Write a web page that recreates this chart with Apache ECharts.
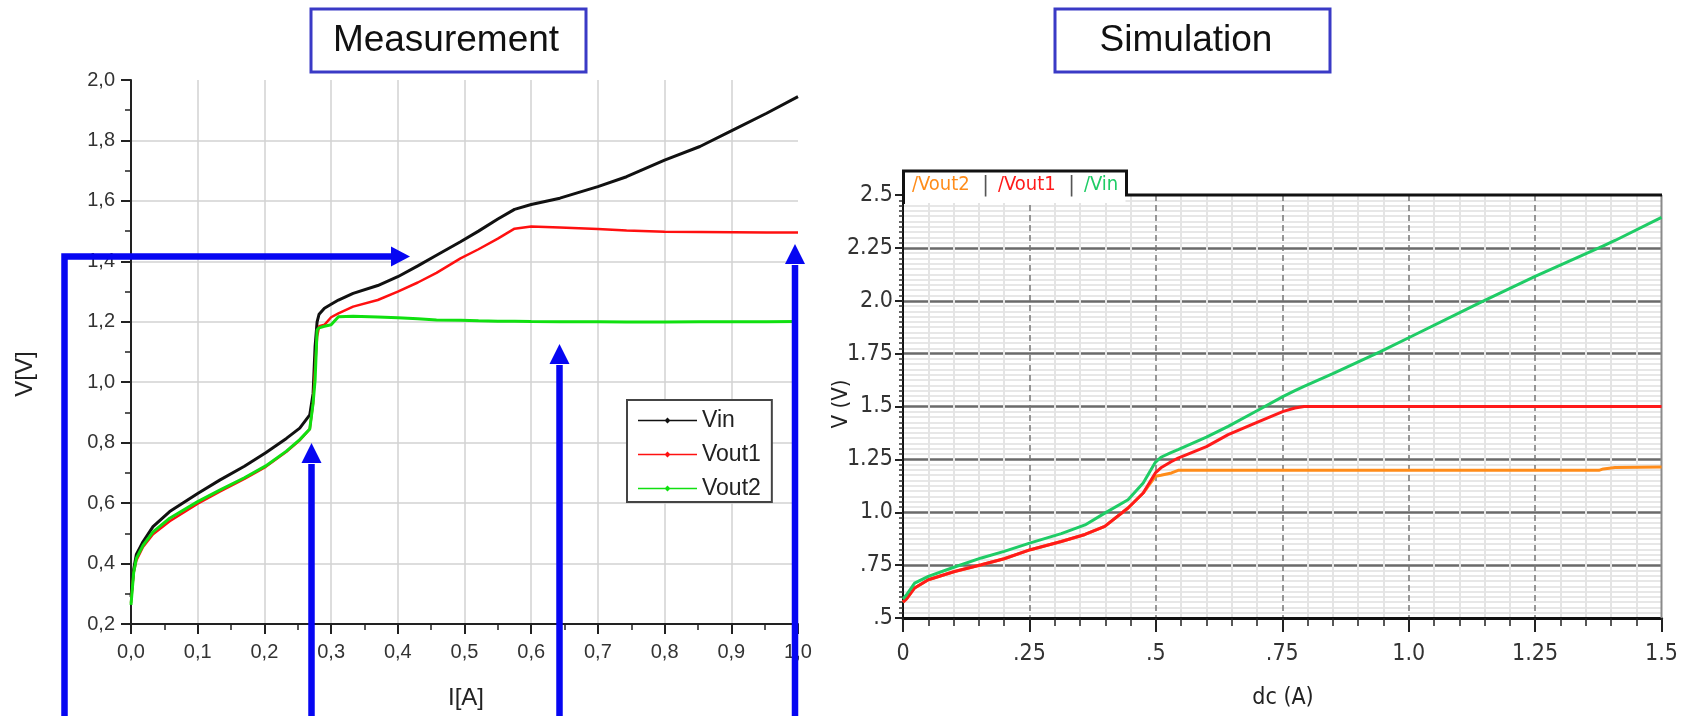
<!DOCTYPE html>
<html>
<head>
<meta charset="utf-8">
<script src="https://cdn.jsdelivr.net/npm/echarts@6/dist/echarts.min.js"></script>
<style>
html,body{margin:0;padding:0;background:#fff;}
#chart{width:1681px;height:716px;}
</style>
</head>
<body>
<div id="chart"></div>
<script>
// ---------- Measurement (left) ----------
const measI     = [0, 0.004, 0.008, 0.018, 0.033, 0.058, 0.1, 0.133, 0.17, 0.202, 0.233, 0.253, 0.268, 0.273, 0.276, 0.279, 0.282, 0.29, 0.3, 0.311, 0.333, 0.37, 0.4, 0.43, 0.458, 0.494, 0.521, 0.55, 0.575, 0.6, 0.643, 0.7, 0.743, 0.8, 0.853, 0.903, 0.953, 1.0];
const measVin   = [0.29, 0.38, 0.43, 0.472, 0.522, 0.572, 0.632, 0.676, 0.722, 0.767, 0.814, 0.848, 0.892, 0.963, 1.118, 1.2, 1.225, 1.245, 1.258, 1.272, 1.294, 1.32, 1.349, 1.385, 1.42, 1.465, 1.5, 1.54, 1.572, 1.588, 1.609, 1.647, 1.68, 1.735, 1.78, 1.835, 1.89, 1.945];
const measVout1 = [0.27, 0.37, 0.41, 0.455, 0.497, 0.54, 0.598, 0.638, 0.68, 0.72, 0.77, 0.808, 0.845, 0.93, 1.05, 1.15, 1.185, 1.19, 1.215, 1.228, 1.25, 1.272, 1.3, 1.33, 1.362, 1.41, 1.44, 1.475, 1.508, 1.515, 1.512, 1.507, 1.502, 1.498, 1.497, 1.496, 1.495, 1.495];
const measVout2 = [0.263, 0.37, 0.417, 0.46, 0.505, 0.55, 0.605, 0.643, 0.684, 0.723, 0.772, 0.81, 0.845, 0.93, 1.007, 1.173, 1.18, 1.185, 1.19, 1.217, 1.218, 1.216, 1.213, 1.21, 1.206, 1.205, 1.203, 1.202, 1.202, 1.201, 1.2, 1.2, 1.199, 1.199, 1.2, 1.2, 1.2, 1.201];
const measXTickLabels = ['0,0','0,1','0,2','0,3','0,4','0,5','0,6','0,7','0,8','0,9','1,0'];
const measYTickLabels = ['0,2','0,4','0,6','0,8','1,0','1,2','1,4','1,6','1,8','2,0'];

// ---------- Simulation (right) ----------
const simI     = [0, 0.007, 0.023, 0.05, 0.102, 0.155, 0.2, 0.252, 0.313, 0.36, 0.399, 0.445, 0.475, 0.499, 0.51, 0.531, 0.544, 0.6, 0.643, 0.7, 0.752, 0.775, 0.793, 0.85, 0.943, 1.0, 1.14, 1.25, 1.376, 1.385, 1.408, 1.5];
const simVin   = [0.59, 0.61, 0.665, 0.697, 0.741, 0.784, 0.815, 0.855, 0.899, 0.94, 0.996, 1.059, 1.138, 1.236, 1.26, 1.283, 1.296, 1.355, 1.406, 1.48, 1.548, 1.575, 1.595, 1.655, 1.758, 1.825, 1.99, 2.115, 2.25, 2.26, 2.285, 2.394];
const simVout1 = [0.575, 0.59, 0.642, 0.681, 0.72, 0.752, 0.78, 0.823, 0.862, 0.895, 0.933, 1.02, 1.091, 1.186, 1.21, 1.24, 1.256, 1.31, 1.367, 1.425, 1.477, 1.493, 1.5, 1.5, 1.5, 1.5, 1.5, 1.5, 1.5, 1.5, 1.5, 1.5];
const simVout2 = [0.575, 0.59, 0.642, 0.681, 0.72, 0.752, 0.78, 0.823, 0.862, 0.895, 0.933, 1.02, 1.091, 1.17, 1.175, 1.186, 1.198, 1.198, 1.198, 1.198, 1.198, 1.198, 1.198, 1.198, 1.198, 1.198, 1.198, 1.198, 1.198, 1.205, 1.212, 1.214];
const simXTickLabels = ['0','.25','.5','.75','1.0','1.25','1.5'];
const simYTickLabels = ['.5','.75','1.0','1.25','1.5','1.75','2.0','2.25','2.5'];

const zip = (xs, ys) => xs.map((x, i) => [x, ys[i]]);

const LF = "'Liberation Sans', Arial, sans-serif";
const NF = "'DejaVu Sans Condensed', 'Liberation Sans Narrow', 'Liberation Sans', sans-serif";
const BLUE = '#0606f2';

const chart = echarts.init(document.getElementById('chart'), null, {renderer: 'canvas'});

const legendIcon = 'path://M0,2.2 L59,2.2 L59,3.8 L0,3.8 Z M29.5,0 L32.5,3 L29.5,6 L26.5,3 Z';

function arrowUp(x, tipY, baseY) {
  return [
    {type: 'line', shape: {x1: x, y1: 720, x2: x, y2: baseY + 1}, style: {stroke: BLUE, lineWidth: 6.5}, z: 20},
    {type: 'polygon', shape: {points: [[x - 10, baseY], [x, tipY], [x + 10, baseY]]}, style: {fill: BLUE}, z: 20}
  ];
}

const option = {
  backgroundColor: '#fff',
  animation: false,
  grid: [
    {left: 131, top: 80, width: 667, height: 544, containLabel: false},
    {left: 903, top: 195, width: 759, height: 423, containLabel: false}
  ],
  xAxis: [
    {
      type: 'value', gridIndex: 0, min: 0, max: 1, interval: 0.1,
      axisLine: {show: true, onZero: false, lineStyle: {color: '#222', width: 2}},
      axisTick: {show: true, length: 10, lineStyle: {color: '#222', width: 2}},
      minorTick: {show: true, splitNumber: 2, length: 6, lineStyle: {color: '#222', width: 1.5}},
      axisLabel: {formatter: v => measXTickLabels[Math.round(v * 10)], fontSize: 20, color: '#333', fontFamily: LF, margin: 18},
      splitLine: {show: true, showMaxLine: false, lineStyle: {color: '#d2d2d2', width: 1.5}}
    },
    {
      type: 'value', gridIndex: 1, min: 0, max: 1.5, interval: 0.25,
      axisLine: {show: true, onZero: false, lineStyle: {color: '#111', width: 3}},
      axisTick: {show: true, length: 14, lineStyle: {color: '#222', width: 2}},
      minorTick: {show: true, splitNumber: 5, length: 8, lineStyle: {color: '#222', width: 1.5}},
      axisLabel: {formatter: v => simXTickLabels[Math.round(v / 0.25)], fontSize: 23, color: '#333', fontFamily: NF, margin: 25},
      splitLine: {show: true, showMinLine: false, showMaxLine: false, lineStyle: {color: '#777', width: 1.5, type: [6, 4]}},
      minorSplitLine: {show: true, lineStyle: {color: '#e4e4e4', width: 2}}
    }
  ],
  yAxis: [
    {
      type: 'value', gridIndex: 0, min: 0.2, max: 2.0, interval: 0.2,
      axisLine: {show: true, onZero: false, lineStyle: {color: '#222', width: 2}},
      axisTick: {show: true, length: 10, lineStyle: {color: '#222', width: 2}},
      minorTick: {show: true, splitNumber: 2, length: 6, lineStyle: {color: '#222', width: 1.5}},
      axisLabel: {formatter: v => measYTickLabels[Math.round((v - 0.2) / 0.2)], fontSize: 20, color: '#333', fontFamily: LF, margin: 16},
      splitLine: {show: true, showMinLine: false, showMaxLine: false, lineStyle: {color: '#d2d2d2', width: 1.5}}
    },
    {
      type: 'value', gridIndex: 1, min: 0.5, max: 2.5, interval: 0.25,
      axisLine: {show: true, onZero: false, lineStyle: {color: '#111', width: 2}},
      axisTick: {show: true, length: 8, lineStyle: {color: '#222', width: 2}},
      minorTick: {show: true, splitNumber: 10, length: 4, lineStyle: {color: '#333', width: 1.5}},
      axisLabel: {formatter: v => simYTickLabels[Math.round((v - 0.5) / 0.25)], fontSize: 23, color: '#333', fontFamily: NF, margin: 10},
      splitLine: {show: true, showMinLine: false, showMaxLine: false, lineStyle: {color: '#6a6a6a', width: 2.5}},
      minorSplitLine: {show: true, lineStyle: {color: '#e0e0e0', width: 1.5}}
    }
  ],
  legend: [
    {
      data: ['Vin', 'Vout1', 'Vout2'],
      orient: 'vertical', left: 627, top: 400,
      padding: [9, 11, 2, 11], itemGap: 11,
      itemWidth: 59, itemHeight: 6, icon: legendIcon,
      textStyle: {fontSize: 23, color: '#222', fontFamily: LF, lineHeight: 20},
      borderColor: '#444', borderWidth: 2, backgroundColor: '#fff', z: 10
    },
    {
      data: ['/Vout2', '/Vout1', '/Vin'],
      orient: 'horizontal', left: 906, top: 174, padding: 0, itemGap: 3,
      itemWidth: 1, itemHeight: 1, icon: 'rect', itemStyle: {opacity: 0},
      formatter: name => name === '/Vout2' ? '{o|' + name + '}{s|  |}'
                       : name === '/Vout1' ? '{r|' + name + '}{s|  |}'
                       : '{g|' + name + '}',
      textStyle: {
        fontSize: 20, fontFamily: NF,
        rich: {
          o: {color: '#ff8c1a', fontSize: 20, fontFamily: NF},
          r: {color: '#ff1a1a', fontSize: 20, fontFamily: NF},
          g: {color: '#1fcc66', fontSize: 20, fontFamily: NF},
          s: {color: '#555', fontSize: 22, fontFamily: NF}
        }
      },
      z: 12
    }
  ],
  series: [
    {name: 'Vin', type: 'line', xAxisIndex: 0, yAxisIndex: 0, data: zip(measI, measVin), showSymbol: false, color: '#111', lineStyle: {width: 3}},
    {name: 'Vout1', type: 'line', xAxisIndex: 0, yAxisIndex: 0, data: zip(measI, measVout1), showSymbol: false, color: '#ff1010', lineStyle: {width: 2.5}},
    {name: 'Vout2', type: 'line', xAxisIndex: 0, yAxisIndex: 0, data: zip(measI, measVout2), showSymbol: false, color: '#10e010', lineStyle: {width: 3}},
    {name: '/Vout2', type: 'line', xAxisIndex: 1, yAxisIndex: 1, data: zip(simI, simVout2), showSymbol: false, color: '#ff8c1a', lineStyle: {width: 3}},
    {name: '/Vout1', type: 'line', xAxisIndex: 1, yAxisIndex: 1, data: zip(simI, simVout1), showSymbol: false, color: '#ff1a1a', lineStyle: {width: 3}},
    {name: '/Vin', type: 'line', xAxisIndex: 1, yAxisIndex: 1, data: zip(simI, simVin), showSymbol: false, color: '#1fcc66', lineStyle: {width: 3}}
  ],
  graphic: [
    // title boxes
    {type: 'rect', shape: {x: 311, y: 9, width: 275, height: 63}, style: {fill: '#fff', stroke: '#3a3ac6', lineWidth: 3}, z: 5},
    {type: 'text', x: 446, y: 41, style: {text: 'Measurement', font: "37px 'Liberation Sans', Arial, sans-serif", fill: '#111', textAlign: 'center', textVerticalAlign: 'middle'}, z: 6},
    {type: 'rect', shape: {x: 1055, y: 9, width: 275, height: 63}, style: {fill: '#fff', stroke: '#3a3ac6', lineWidth: 3}, z: 5},
    {type: 'text', x: 1186, y: 41, style: {text: 'Simulation', font: "37px 'Liberation Sans', Arial, sans-serif", fill: '#111', textAlign: 'center', textVerticalAlign: 'middle'}, z: 6},
    // axis names
    {type: 'text', x: 25, y: 374, rotation: Math.PI / 2, style: {text: 'V[V]', font: "24px 'Liberation Sans', Arial, sans-serif", fill: '#222', textAlign: 'center', textVerticalAlign: 'middle'}, z: 6},
    {type: 'text', x: 466, y: 698, style: {text: 'I[A]', font: "24px 'Liberation Sans', Arial, sans-serif", fill: '#222', textAlign: 'center', textVerticalAlign: 'middle'}, z: 6},
    {type: 'text', x: 841, y: 404, rotation: Math.PI / 2, style: {text: 'V (V)', font: "22px 'DejaVu Sans Condensed', 'Liberation Sans', sans-serif", fill: '#222', textAlign: 'center', textVerticalAlign: 'middle'}, z: 6},
    {type: 'text', x: 1283, y: 698, style: {text: 'dc (A)', font: "23px 'DejaVu Sans Condensed', 'Liberation Sans', sans-serif", fill: '#222', textAlign: 'center', textVerticalAlign: 'middle'}, z: 6},
    // simulation frame: legend tab + top border + right edge
    {type: 'rect', shape: {x: 904.5, y: 172, width: 221, height: 31}, style: {fill: '#fff'}, z: 3},
    {type: 'polyline', shape: {points: [[903.5, 204], [903.5, 171], [1126.5, 171], [1126.5, 195], [1662, 195]]}, style: {stroke: '#111', lineWidth: 3, fill: null}, z: 8},
    {type: 'line', shape: {x1: 1661.5, y1: 195, x2: 1661.5, y2: 618}, style: {stroke: '#8a8a8a', lineWidth: 2}, z: 3},
    // blue annotation arrows
    {type: 'polyline', shape: {points: [[64.5, 720], [64.5, 256.5], [392, 256.5]]}, style: {stroke: BLUE, lineWidth: 6.5, fill: null}, z: 20},
    {type: 'polygon', shape: {points: [[391, 246.5], [410, 256.5], [391, 266.5]]}, style: {fill: BLUE}, z: 20},
    ...arrowUp(311.5, 443, 463),
    ...arrowUp(559.5, 344, 364),
    ...arrowUp(795, 244, 264)
  ]
};

chart.setOption(option);
</script>
</body>
</html>
